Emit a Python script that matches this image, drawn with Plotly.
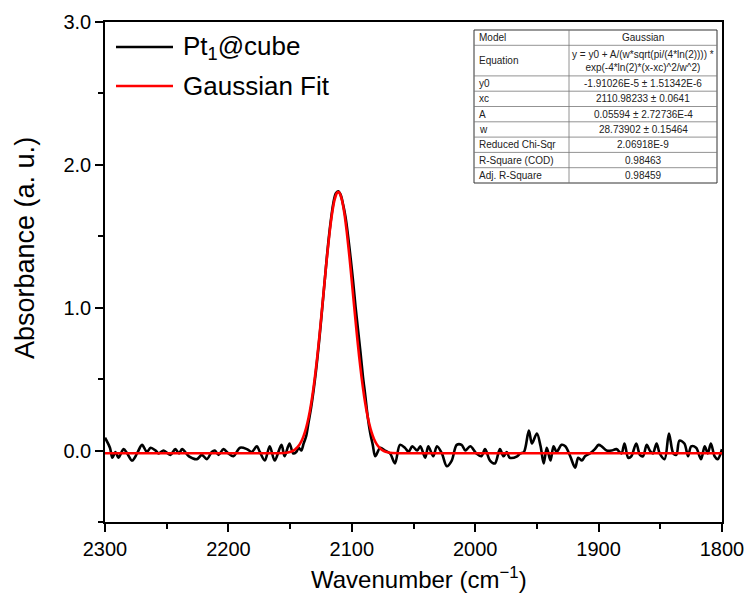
import plotly.graph_objects as go

# ---------------- data ----------------
spec_x = [2300, 2296, 2294, 2291.5, 2289, 2285, 2282, 2278, 2274, 2270, 2266, 2263, 2259, 2256.5,
          2252.5, 2247, 2243, 2240, 2237.5, 2232, 2225.5, 2221.5, 2217.5, 2213.5, 2211, 2208, 2204,
          2200, 2196, 2190.5, 2185, 2181, 2177, 2174.5, 2170.5, 2166.5, 2162.5, 2157, 2154.5, 2150.5,
          2147.5, 2145, 2143, 2141, 2139, 2137, 2135, 2133, 2131, 2129, 2127, 2125, 2123, 2121,
          2119, 2117, 2115, 2113, 2111, 2109, 2107, 2105, 2103, 2101, 2099, 2097, 2095, 2093, 2091,
          2089, 2087, 2085, 2083, 2081, 2077, 2073, 2069, 2065, 2061, 2057, 2054, 2051, 2047,
          2044.5, 2040.5, 2038, 2034, 2031, 2027, 2023, 2019, 2015, 2011, 2008, 2004, 1999, 1995,
          1992, 1988, 1984, 1980, 1977, 1974.5, 1972, 1966, 1963.5, 1960.5, 1956.5, 1954, 1950,
          1947, 1944.5, 1942, 1939, 1936.5, 1934, 1930, 1927, 1923, 1919, 1916.5, 1913.5, 1911,
          1907, 1903, 1900, 1897.5, 1893.5, 1889.5, 1885.5, 1881.5, 1879, 1876, 1873.5, 1869.5,
          1866.5, 1864, 1861, 1858.5, 1856, 1853, 1850.5, 1846.5, 1843, 1839.5, 1837, 1834.5,
          1830.5, 1827.5, 1825, 1821, 1817, 1814, 1811.5, 1809, 1806, 1803.5, 1800]
spec_y = [0.09, 0.02, -0.05, -0.01, -0.05, 0.01, -0.02, -0.07, -0.02, 0.04, -0.01, 0.02, 0.0, -0.02,
          0.0, -0.03, 0.01, -0.02, 0.01, -0.04, -0.06, -0.03, -0.06, -0.01, 0.0, -0.03, 0.01,
          -0.02, -0.04, 0.02, 0.01, -0.01, 0.03, -0.01, -0.07, 0.03, -0.07, 0.04, -0.04, 0.05,
          -0.02, -0.01, 0.02, 0.0, 0.05, 0.10, 0.20, 0.30, 0.42, 0.56, 0.72, 0.90, 1.09, 1.28,
          1.46, 1.61, 1.73, 1.80, 1.815, 1.79, 1.72, 1.63, 1.50, 1.35, 1.19, 1.01, 0.85, 0.69, 0.52,
          0.38, 0.23, 0.12, 0.04, -0.04, 0.02, 0.0, -0.02, -0.09, 0.04, 0.02, -0.01, 0.03, 0.0,
          0.03, -0.05, 0.03, -0.04, 0.03, -0.02, -0.11, -0.07, 0.04, 0.04, 0.0, 0.03, -0.02, -0.04,
          0.01, -0.07, -0.09, 0.01, -0.04, -0.01, -0.05, -0.04, -0.02, -0.01, 0.14, 0.05, 0.12,
          0.03, -0.09, 0.02, -0.07, 0.03, -0.01, 0.04, 0.03, -0.04, -0.12, -0.05, -0.07, -0.04,
          -0.02, 0.01, 0.04, 0.03, 0.0, 0.0, 0.01, -0.02, 0.05, -0.05, -0.04, 0.05,
          -0.03, -0.04, 0.04, 0.0, -0.02, 0.05, -0.02, -0.06, 0.12, -0.02, -0.03, 0.07,
          0.05, -0.04, 0.03, 0.02, -0.06, 0.03, -0.02, 0.05, -0.04, -0.06, 0.01]

fit_x = [2300, 2170, 2160, 2155, 2151, 2148, 2146, 2144, 2142, 2140, 2138, 2136, 2134, 2132, 2130,
         2128, 2126, 2124, 2122, 2120, 2118, 2116, 2114, 2112, 2111, 2110, 2108, 2106, 2104, 2102,
         2100, 2098, 2096, 2094, 2092, 2090, 2088, 2086, 2084, 2082, 2080, 2078, 2076, 2074, 2071,
         2067, 2062, 2052, 1800]
fit_y = [-0.019, -0.019, -0.0185, -0.017, -0.012, -0.003, 0.008, 0.024, 0.047, 0.081, 0.129, 0.193,
         0.276, 0.380, 0.507, 0.656, 0.822, 1.002, 1.186, 1.364, 1.525, 1.659, 1.754, 1.804, 1.810,
         1.804, 1.754, 1.659, 1.525, 1.364, 1.186, 1.002, 0.822, 0.656, 0.507, 0.380, 0.276, 0.193,
         0.129, 0.081, 0.047, 0.024, 0.008, -0.003, -0.012, -0.017, -0.0185, -0.019, -0.019]

series_names = ["Pt<sub>1</sub>@cube", "Gaussian Fit"]
series_colors = ["#000000", "#ff0000"]

x_title = "Wavenumber (cm<sup>−1</sup>)"
y_title = "Absorbance (a. u.)"

table_rows = [
    ("Model", "Gaussian"),
    ("Equation", "y = y0 + A/(w*sqrt(pi/(4*ln(2)))) *<br>exp(-4*ln(2)*(x-xc)^2/w^2)"),
    ("y0", "-1.91026E-5 ± 1.51342E-6"),
    ("xc", "2110.98233 ± 0.0641"),
    ("A", "0.05594 ± 2.72736E-4"),
    ("w", "28.73902 ± 0.15464"),
    ("Reduced Chi-Sqr", "2.06918E-9"),
    ("R-Square (COD)", "0.98463"),
    ("Adj. R-Square", "0.98459"),
]

# ---------------- layout geometry ----------------
W, H = 748, 604
L, R, T, B = 105, 722, 22, 522
FONT = "Arial, Liberation Sans, sans-serif"


def px(xp):
    return (xp - L) / (R - L)


def py(yp):
    return (B - yp) / (B - T)


fig = go.Figure()
fig.add_trace(go.Scatter(x=spec_x, y=spec_y, mode="lines", name=series_names[0],
                         line=dict(color=series_colors[0], width=2.6, shape="spline", smoothing=0.9),
                         showlegend=False))
fig.add_trace(go.Scatter(x=fit_x, y=fit_y, mode="lines", name=series_names[1],
                         line=dict(color=series_colors[1], width=2.6, shape="spline", smoothing=0.6),
                         showlegend=False))

shapes = []
annotations = []

# manual legend
for i, (nm, col) in enumerate(zip(series_names, series_colors)):
    yy = [47, 86][i]
    shapes.append(dict(type="line", xref="paper", yref="paper", x0=px(116), x1=px(173),
                       y0=py(yy), y1=py(yy), line=dict(color=col, width=2.6)))
    annotations.append(dict(xref="paper", yref="paper", x=px(181), y=py(yy), text=nm,
                            showarrow=False, xanchor="left", yanchor="middle",
                            font=dict(family=FONT, size=26, color="black")))

# fit table
tl, tm, tr = 474, 569, 717
row_lines = [30, 45.3, 75.9, 91.2, 106.5, 121.8, 137.1, 152.4, 167.7, 183]
shapes.append(dict(type="rect", xref="paper", yref="paper", x0=px(tl), x1=px(tr),
                   y0=py(row_lines[-1]), y1=py(row_lines[0]), fillcolor="white",
                   line=dict(color="#333333", width=1), layer="above"))
for yl in row_lines[1:-1]:
    shapes.append(dict(type="line", xref="paper", yref="paper", x0=px(tl), x1=px(tr),
                       y0=py(yl), y1=py(yl), line=dict(color="#777777", width=0.8), layer="above"))
shapes.append(dict(type="line", xref="paper", yref="paper", x0=px(tm), x1=px(tm),
                   y0=py(row_lines[-1]), y1=py(row_lines[0]), line=dict(color="#777777", width=0.8),
                   layer="above"))
for i, (k, v) in enumerate(table_rows):
    yc = (row_lines[i] + row_lines[i + 1]) / 2
    annotations.append(dict(xref="paper", yref="paper", x=px(tl + 3), y=py(yc), text=k,
                            showarrow=False, xanchor="left", yanchor="middle",
                            font=dict(family=FONT, size=10, color="#222222")))
    annotations.append(dict(xref="paper", yref="paper", x=px((tm + tr) / 2), y=py(yc), text=v,
                            showarrow=False, xanchor="center", yanchor="middle", align="center",
                            font=dict(family=FONT, size=10, color="#222222")))

# axis titles
annotations.append(dict(xref="paper", yref="paper", x=px(25), y=py(248), text=y_title,
                        textangle=-90, showarrow=False, xanchor="center", yanchor="middle",
                        font=dict(family=FONT, size=27, color="black")))
annotations.append(dict(xref="paper", yref="paper", x=px(419), y=py(578), text=x_title,
                        showarrow=False, xanchor="center", yanchor="middle",
                        font=dict(family=FONT, size=24, color="black")))

fig.update_layout(
    width=W, height=H,
    margin=dict(l=L, r=W - R, t=T, b=H - B, autoexpand=False),
    paper_bgcolor="white", plot_bgcolor="white",
    font=dict(family=FONT, color="black"),
    shapes=shapes, annotations=annotations,
    showlegend=False,
)
fig.update_xaxes(
    range=[2300, 1800], tickmode="linear", tick0=1800, dtick=100, automargin=False,
    showline=True, linecolor="black", linewidth=1.5, mirror=True,
    ticks="outside", ticklen=8, tickwidth=1.5, tickcolor="black",
    minor=dict(ticks="outside", ticklen=5, tickwidth=1.5, tickcolor="black", dtick=50, tick0=1800,
               showgrid=False),
    showgrid=False, zeroline=False,
    tickfont=dict(family=FONT, size=20, color="black"),
)
fig.update_yaxes(
    range=[-0.5, 3.0], tickmode="linear", tick0=0, dtick=1, tickformat=".1f", automargin=False,
    showline=True, linecolor="black", linewidth=1.5, mirror=True,
    ticks="outside", ticklen=8, tickwidth=1.5, tickcolor="black",
    minor=dict(ticks="outside", ticklen=5, tickwidth=1.5, tickcolor="black", dtick=0.5, tick0=0,
               showgrid=False),
    showgrid=False, zeroline=False,
    tickfont=dict(family=FONT, size=20, color="black"),
)

fig.write_html("out.html")
